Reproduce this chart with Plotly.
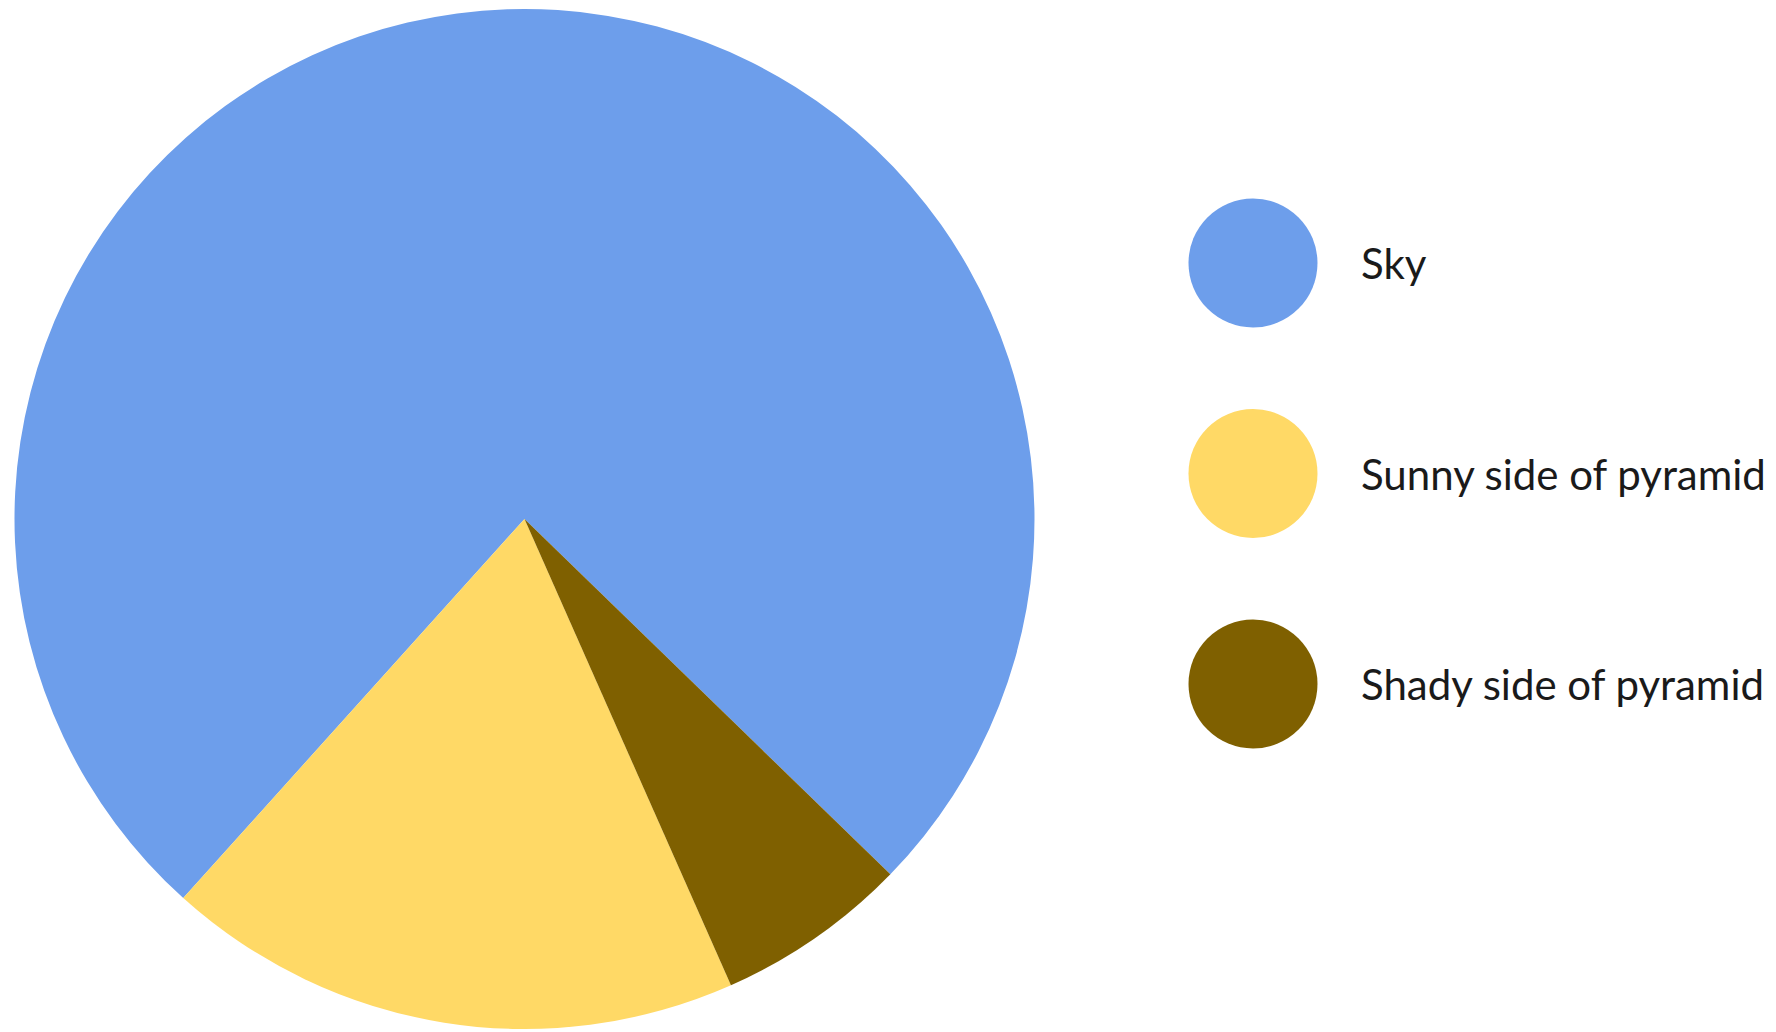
import plotly.graph_objects as go

# Data (shares of the pie, in percent)
categories = ["Sky", "Sunny side of pyramid", "Shady side of pyramid"]
values = [75.6, 18.3, 6.1]
colors = ["#6D9EEB", "#FFD966", "#7F6000"]

# page body has an 8px margin, so the figure starts 8px in from the window corner
W, H = 1768, 1024

fig = go.Figure()

fig.add_trace(go.Pie(
    labels=categories,
    values=values,
    sort=False,
    direction="counterclockwise",
    rotation=-138.0,
    marker=dict(colors=colors, line=dict(width=0)),
    textinfo="none",
    hoverinfo="label+percent",
    showlegend=False,
    domain=dict(x=[6.5 / W, 1026.5 / W], y=[3 / H, 1023 / H]),
))

# Custom legend: big circular swatches
fig.add_trace(go.Scatter(
    x=[0] * len(categories),
    y=categories,
    mode="markers",
    marker=dict(size=129, color=colors, line=dict(width=0)),
    hoverinfo="y",
    showlegend=False,
    xaxis="x",
    yaxis="y",
    cliponaxis=False,
))

for cat in categories:
    fig.add_annotation(
        x=0, y=cat, xref="x", yref="y",
        text=cat, showarrow=False,
        xanchor="left", yanchor="middle",
        xshift=106,
        font=dict(family="Lato, Open Sans, sans-serif", size=42, color="#1a1a1a"),
    )

fig.update_layout(
    width=W, height=H,
    margin=dict(l=0, r=0, t=0, b=0),
    paper_bgcolor="white",
    plot_bgcolor="white",
    xaxis=dict(domain=[1145 / W, 1345 / W], range=[-1, 1], visible=False, fixedrange=True),
    yaxis=dict(domain=[242.75 / H, 874.25 / H], range=[2.5, -0.5], visible=False,
               type="category", categoryorder="array", categoryarray=categories, fixedrange=True),
)

fig.write_html("out.html")
